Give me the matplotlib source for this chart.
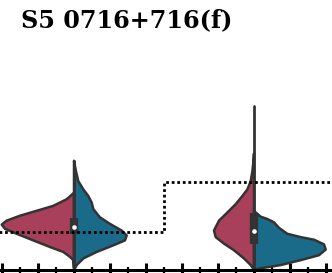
import numpy as np
import matplotlib
matplotlib.use("Agg")
import matplotlib.pyplot as plt
from matplotlib.ticker import MultipleLocator

title = "S5 0716+716(f)"
positions = [0, 5]

# violin outlines: heights (value) and half-widths (density, px-like units)
v1_red_y = [78.3, 71.7, 65, 60, 55, 50, 46, 41.7, 36.7, 30, 23.3, 18.3, 13.3, 10, 2]
v1_red_w = [0, 7.3, 20.7, 37.3, 54, 67.3, 72.3, 69, 57.3, 40.7, 24, 10.7, 4, 0.7, 0]
v1_blue_y = [110.7, 100, 90, 81.7, 75, 68.3, 61.7, 53.3, 46.7, 40, 35, 30, 25, 18.3, 11.7, 5, 1.7, 0]
v1_blue_w = [0, 2, 4.3, 9.3, 14.3, 17.7, 19.3, 26, 36, 47.7, 52.7, 51, 39.3, 22.7, 9.3, 2.7, 1, 0]
v2_red_y = [118, 110, 100, 90, 81.7, 75, 66.7, 58.3, 50, 40, 33.3, 26.7, 20, 11.7, 5, 1.7, 0]
v2_red_w = [0, 0.6, 1.6, 3.3, 6.6, 11.6, 18.3, 26.6, 35, 40, 38.3, 30, 20, 10, 3.3, 1, 0]
v2_blue_y = [60, 58.3, 54, 51.7, 48.3, 42.7, 36.7, 33.3, 30.7, 26, 20.7, 15, 10, 5, 1.7, 0.7, 0]
v2_blue_w = [0, 1.7, 6.7, 13.3, 20, 25, 33.3, 46.7, 60, 70, 71.7, 65, 46.7, 26.7, 6.7, 1.7, 0]

whisker_top = [110.7, 166]
whisker_bot = [0, 0]
box_q1 = [36, 26]
box_q3 = [53, 57.3]
medians = [44, 40]

step_x = [-3, 0, 5, 8]
step_y = [38, 38, 89, 89]

red = "#a8405c"
blue = "#1a6b89"
edge = "#333333"
dens_scale = 1 / 36.0

fig = plt.figure(figsize=(3.32, 2.73), dpi=100)
ax = fig.add_axes([0, 3 / 273, 1, 227 / 273])

outlines = [(v1_red_y, v1_red_w, v1_blue_y, v1_blue_w),
            (v2_red_y, v2_red_w, v2_blue_y, v2_blue_w)]
for pos, (ry, rw, by, bw) in zip(positions, outlines):
    ry = np.array(ry); rw = np.array(rw) * dens_scale
    by = np.array(by); bw = np.array(bw) * dens_scale
    ax.fill(np.r_[pos - rw, pos], np.r_[ry, ry[0]], facecolor=red,
            edgecolor=edge, lw=1.8, zorder=2, joinstyle="round")
    ax.fill(np.r_[pos + bw, pos], np.r_[by, by[0]], facecolor=blue,
            edgecolor=edge, lw=1.8, zorder=2, joinstyle="round")

for pos, lo, hi, q1, q3, med in zip(positions, whisker_bot, whisker_top, box_q1, box_q3, medians):
    ax.plot([pos, pos], [lo, hi], color=edge, lw=2.0, zorder=3, solid_capstyle="round")
    ax.plot([pos, pos], [q1, q3], color=edge, lw=6.0, zorder=3, solid_capstyle="butt")
    ax.plot([pos], [med], marker="o", ms=2.3, color="white", mec="white", zorder=4)

ax.step(step_x, step_y, where="mid", color="black", lw=2.0, ls=(0, (1, 1.0)), zorder=5)

ax.set_xlim((0 - 74) / 36, (332 - 74) / 36)
ax.set_ylim(0, 230)
for s in ["top", "left", "right"]:
    ax.spines[s].set_visible(False)
ax.spines["bottom"].set_linewidth(2.2)
ax.spines["bottom"].set_zorder(6)
ax.xaxis.set_major_locator(MultipleLocator(1))
ax.xaxis.set_minor_locator(MultipleLocator(0.5))
ax.tick_params(axis="x", which="major", direction="inout", length=10, width=2.2, labelbottom=False)
ax.tick_params(axis="x", which="minor", direction="inout", length=4, width=1.6)
ax.set_yticks([])
ax.patch.set_alpha(0)

fig.text(21 / 332, 1 - 27 / 273, title, fontfamily="DejaVu Serif", fontweight="bold",
         fontsize=17.2, ha="left", va="baseline")

fig.savefig("out.png", dpi=100)
